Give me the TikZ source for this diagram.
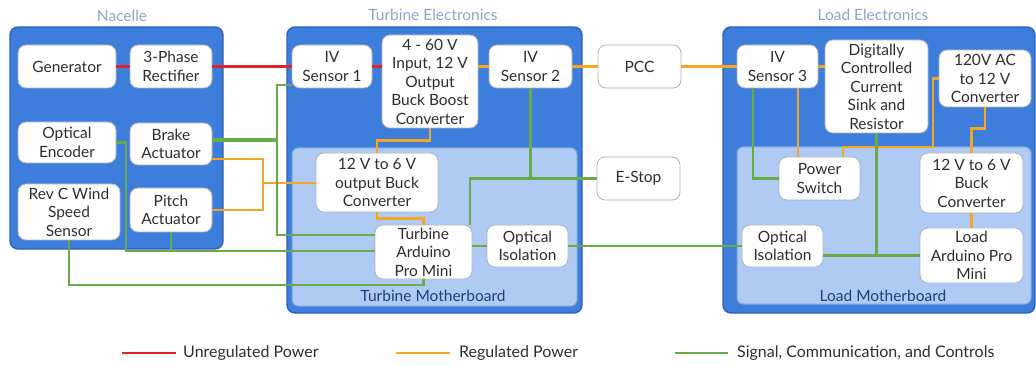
\documentclass[tikz,border=0pt]{standalone}
\usepackage{fontspec}
\setmainfont{Lato}
\usetikzlibrary{calc}
\definecolor{outerblue}{HTML}{3D7DDB}
\definecolor{outerdraw}{HTML}{2E62B8}
\definecolor{innerblue}{HTML}{AFCBF3}
\definecolor{innerdraw}{HTML}{7FA3DA}
\definecolor{titlecol}{HTML}{8DA5C8}
\definecolor{mblabel}{HTML}{1E3F7A}
\definecolor{boxdraw}{HTML}{A8B2C4}
\definecolor{txtcol}{HTML}{2E2E2E}
\definecolor{wred}{HTML}{E0242B}
\definecolor{worange}{HTML}{F6A623}
\definecolor{wgreen}{HTML}{6BAA48}
\tikzset{
  outerbox/.style={fill=outerblue,draw=outerdraw,line width=1.4pt,rounded corners=8pt},
  innerbox/.style={fill=innerblue,draw=innerdraw,line width=1pt,rounded corners=6pt},
  blk/.style={draw=boxdraw,fill=white,line width=0.8pt,rounded corners=8pt,align=center,
    inner sep=1pt,text=txtcol,font=\fontsize{15.5}{18.5}\selectfont},
  ttl/.style={text=titlecol,font=\fontsize{15.5}{17}\selectfont},
  mbl/.style={text=mblabel,font=\fontsize{15.5}{17}\selectfont},
  legtext/.style={text=txtcol,font=\fontsize{16}{18}\selectfont,anchor=west,inner sep=0pt},
  unreg/.style={draw=wred,line width=2.4pt},
  reg/.style={draw=worange,line width=2.4pt},
  sig/.style={draw=wgreen,line width=2.4pt},
}
\begin{document}
\begin{tikzpicture}[x=1pt,y=-1pt]
\useasboundingbox (0,0) rectangle (1036,366);
% containers
\draw[outerbox] (10,27) rectangle (223,249);
\draw[outerbox] (287,27) rectangle (582,313);
\draw[innerbox] (292,148) rectangle (577,306);
\draw[outerbox] (723,27) rectangle (1035,313);
\draw[innerbox] (737,147) rectangle (1031,304);
% titles
\node[ttl] (tN) at (122,16) {Nacelle};
\node[ttl] (tT) at (433,15) {Turbine Electronics};
\node[ttl] (tL) at (873,15) {Load Electronics};
\node[mbl] (mT) at (433,296) {Turbine Motherboard};
\node[mbl] (mL) at (883,296) {Load Motherboard};
% Nacelle blocks
\node[blk,minimum width=98pt,minimum height=43pt] (gen) at (67,66.5) {Generator};
\node[blk,minimum width=82pt,minimum height=43pt] (rect) at (171,66.5) {3-Phase\\Rectifier};
\node[blk,minimum width=98pt,minimum height=41pt] (enc) at (67,142.5) {Optical\\Encoder};
\node[blk,minimum width=82pt,minimum height=42pt] (brake) at (171,144) {Brake\\Actuator};
\node[blk,minimum width=102pt,minimum height=56pt] (wind) at (69,212) {Rev C Wind\\Speed\\Sensor};
\node[blk,minimum width=82pt,minimum height=44pt] (pitch) at (171,210) {Pitch\\Actuator};
% Turbine blocks
\node[blk,minimum width=80pt,minimum height=43pt] (iv1) at (332,66.5) {IV\\Sensor 1};
\node[blk,minimum width=96pt,minimum height=93pt] (bb) at (430,81.5) {4 - 60 V\\Input, 12 V\\Output\\Buck Boost\\Converter};
\node[blk,minimum width=83pt,minimum height=43pt] (iv2) at (530.5,66.5) {IV\\Sensor 2};
\node[blk,minimum width=122pt,minimum height=59pt] (buckT) at (377,182.5) {12 V to 6 V\\output Buck\\Converter};
\node[blk,minimum width=97pt,minimum height=54pt] (tard) at (423.5,252) {Turbine\\Arduino\\Pro Mini};
\node[blk,minimum width=81pt,minimum height=42pt] (optT) at (527.5,246) {Optical\\Isolation};
% middle
\node[blk,minimum width=83pt,minimum height=43pt] (pcc) at (639.5,66.5) {PCC};
\node[blk,minimum width=83pt,minimum height=43pt] (estop) at (638.5,178.5) {E-Stop};
% Load blocks
\node[blk,minimum width=81pt,minimum height=43pt] (iv3) at (777.5,66.5) {IV\\Sensor 3};
\node[blk,minimum width=103pt,minimum height=93pt] (dccs) at (876.5,86.5) {Digitally\\Controlled\\Current\\Sink and\\Resistor};
\node[blk,minimum width=92pt,minimum height=57pt] (c120) at (985,78.5) {120V AC\\to 12 V\\Converter};
\node[blk,minimum width=81pt,minimum height=43pt] (psw) at (819.5,178.5) {Power\\Switch};
\node[blk,minimum width=103pt,minimum height=60pt] (buckL) at (971.5,183) {12 V to 6 V\\Buck\\Converter};
\node[blk,minimum width=81pt,minimum height=42pt] (optL) at (782.5,246) {Optical\\Isolation};
\node[blk,minimum width=103pt,minimum height=55pt] (lard) at (971.5,255.5) {Load\\Arduino Pro\\Mini};
% junction coordinates
\coordinate (oj) at (263,183);
\coordinate (gA) at (277,140);
\coordinate (gB) at (126,251);
\coordinate (gC) at (423.5,285);
\coordinate (gD) at (470,178.5);
\coordinate (oL) at (933,147);
% unregulated power
\draw[unreg] (gen.east) -- (rect.west);
\draw[unreg] (rect.east) -- (iv1.west);
\draw[unreg] (iv1.east) -- (iv1.east -| bb.west);
% regulated power
\draw[reg] (iv2.west -| bb.east) -- (iv2.west);
\draw[reg] (iv2.east) -- (pcc.west);
\draw[reg] (pcc.east) -- (iv3.west);
\draw[reg] (iv3.east) -- (iv3.east -| dccs.west);
\draw[reg] (bb.south) -- ++(0,12) -| (buckT.north);
\draw[reg] (buckT.south) -- ++(0,6) -| (tard.north);
\draw[reg] ([yshift=-15pt]brake.east) -| (oj) |- (pitch.east);
\draw[reg] (oj) -- (buckT.west |- oj);
\draw[reg] ([xshift=20.5pt]iv3.south) -- ([xshift=20.5pt]iv3.south |- psw.north);
\draw[reg] ([xshift=23.5pt]psw.north) |- (oL) |- (c120.west);
\draw[reg] (c120.south) -- ++(0,21) -| (buckL.north);
\draw[reg] (buckL.south) -- (lard.north);
% signals
\draw[sig,line width=3.6pt] ([yshift=4pt]brake.east) -- (gA);
\draw[sig] ([yshift=-18.5pt]iv1.west) -| (gA) |- ([yshift=17pt]tard.west);
\draw[sig] (enc.east) -| (gB) -- ([yshift=1pt]tard.west);
\draw[sig] (pitch.south) -- (pitch.south |- gB);
\draw[sig] (wind.south) |- (gC) -- (tard.south);
\draw[sig] (tard.north -| gD) -- (gD) -- (estop.west);
\draw[sig] (iv2.south) -- (iv2.south |- estop.west);
\draw[sig] (optT.west -| tard.east) -- (optT.west);
\draw[sig] (optT.east) -- (optL.west);
\draw[sig] ([xshift=-24.5pt]iv3.south) |- (psw.west);
\draw[sig] (dccs.south) -- (dccs.south |- lard.west);
\draw[sig] (optL.east |- lard.west) -- (lard.west);
% legend
\node[legtext] (lg1) at (183,353) {Unregulated Power};
\node[legtext] (lg2) at (459,353) {Regulated Power};
\node[legtext] (lg3) at (737,353) {Signal, Communication, and Controls};
\coordinate (lc1) at (122,353);
\coordinate (lc2) at (396,353);
\coordinate (lc3) at (675,353);
\draw[unreg] (lc1) -- ([xshift=-7pt]lg1.west);
\draw[reg] (lc2) -- ([xshift=-9pt]lg2.west);
\draw[sig] (lc3) -- ([xshift=-9pt]lg3.west);
\end{tikzpicture}
\end{document}
